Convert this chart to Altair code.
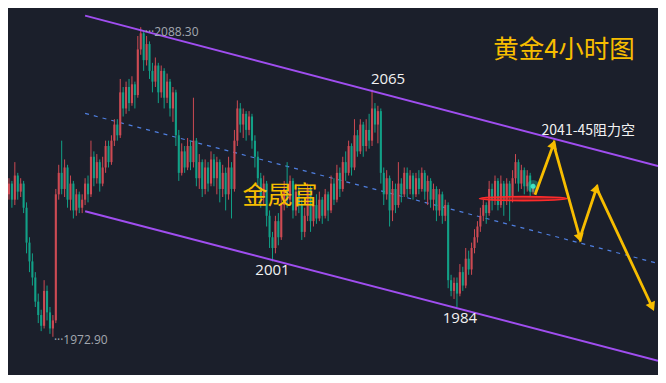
import altair as alt
import pandas as pd

# ---------------- data (prices) ----------------
OPEN = [2026,2030,2024,2033,2027,2030,2021,2008,2001,1995,
        1986,1981,1977,1990,1982,1976,1979,2026,2034,2028,
        2036,2024,2030,2020,2026,2021,2024,2030,2026,2040,
        2032,2038,2030,2036,2044,2038,2046,2052,2048,2064,
        2058,2066,2060,2067,2063,2080,2086,2076,2082,2072,
        2068,2074,2064,2072,2062,2068,2058,2064,2048,2034,
        2042,2036,2044,2038,2046,2032,2038,2028,2036,2030,
        2039,2032,2038,2028,2034,2026,2036,2028,2046,2058,
        2052,2056,2050,2055,2046,2040,2032,2025,2030,2018,
        2010,2006,2016,2010,2022,2028,2024,2031,2020,2027,
        2022,2012,2018,2028,2016,2022,2017,2024,2018,2026,
        2020,2030,2024,2034,2028,2038,2034,2044,2036,2048,
        2042,2052,2044,2050,2046,2058,2052,2057,2034,2026,
        2032,2020,2028,2022,2030,2026,2034,2028,2033,2026,
        2032,2028,2034,2027,2031,2024,2028,2020,2026,2018,
        2022,1994,1990,1993,1989,1997,1992,2002,1998,2006,
        2010,2014,2018,2022,2019,2028,2024,2031,2022,2030,
        2024,2030,2025,2032,2038,2030,2035,2029,2033,2027]
CLOSE = [2030,2024,2033,2027,2030,2021,2008,2001,1995,1986,
         1981,1977,1990,1982,1976,1979,2026,2034,2028,2036,
         2024,2030,2020,2026,2021,2024,2030,2026,2040,2032,
         2038,2030,2036,2044,2038,2046,2052,2048,2064,2058,
         2066,2060,2067,2063,2080,2086,2076,2082,2072,2068,
         2074,2064,2072,2062,2068,2058,2064,2048,2034,2042,
         2036,2044,2038,2046,2032,2038,2028,2036,2030,2039,
         2032,2038,2028,2034,2026,2036,2028,2046,2058,2052,
         2056,2050,2055,2046,2040,2032,2025,2030,2018,2010,
         2006,2016,2010,2022,2028,2024,2031,2020,2027,2022,
         2012,2018,2028,2016,2022,2017,2024,2018,2026,2020,
         2030,2024,2034,2028,2038,2034,2044,2036,2048,2042,
         2052,2044,2050,2046,2058,2052,2057,2034,2026,2032,
         2020,2028,2022,2030,2026,2034,2028,2033,2026,2032,
         2028,2034,2027,2031,2024,2028,2020,2026,2018,2022,
         1994,1990,1993,1989,1997,1992,2002,1998,2006,2010,
         2014,2018,2022,2019,2028,2024,2031,2022,2030,2024,
         2030,2025,2032,2038,2030,2035,2029,2033,2027,2029]
HIGH = [2032,2031,2038,2034,2032,2031,2023,2010,2004,1997,
        1989,1983,1994,1992,1984,1981,2028,2037,2046,2039,
        2037,2033,2031,2028,2027,2026,2032,2033,2046,2042,
        2041,2039,2040,2046,2046,2048,2054,2054,2069,2066,
        2068,2069,2070,2068,2085,2088.3,2087,2085,2083,2075,
        2077,2075,2074,2073,2071,2069,2066,2065,2050,2045,
        2044,2047,2046,2062,2047,2041,2039,2039,2038,2042,
        2041,2040,2039,2037,2036,2040,2038,2050,2061,2060,
        2058,2057,2057,2056,2048,2042,2034,2033,2031,2020,
        2012,2018,2019,2026,2031,2038,2033,2032,2030,2029,
        2024,2021,2030,2029,2025,2026,2027,2025,2028,2027,
        2033,2032,2037,2036,2040,2042,2046,2045,2054,2050,
        2054,2053,2054,2056,2065,2060,2059,2058,2036,2035,
        2033,2031,2030,2038,2032,2036,2036,2035,2034,2034,
        2035,2036,2035,2033,2032,2030,2029,2028,2027,2024,
        2023,1996,1995,1995,2000,1999,2006,2005,2008,2013,
        2016,2021,2024,2023,2031,2030,2033,2032,2033,2031,
        2032,2031,2035,2041,2039,2037,2036,2035,2034,2030]
LOW = [2024,2021,2022,2024,2025,2019,2004,1997,1992,1984,
       1978,1975,1976,1979,1974,1972.9,1978,2024,2026,2025,
       2021,2020,2017,2018,2019,2019,2022,2023,2025,2029,
       2030,2027,2029,2034,2036,2037,2044,2046,2047,2055,
       2056,2057,2059,2058,2062,2078,2072,2074,2069,2064,
       2066,2060,2062,2058,2060,2055,2053,2044,2031,2033,
       2034,2035,2035,2036,2029,2028,2025,2026,2027,2029,
       2029,2026,2023,2025,2020,2024,2017,2027,2044,2049,
       2047,2046,2048,2043,2036,2029,2021,2022,2014,2006,
       2001,2004,2007,2009,2020,2021,2022,2017,2018,2019,
       2009,2010,2016,2012,2014,2015,2016,2015,2017,2016,
       2019,2022,2023,2025,2027,2031,2033,2033,2035,2040,
       2041,2040,2042,2043,2044,2049,2045,2030,2022,2024,
       2014,2016,2019,2021,2023,2025,2025,2026,2024,2025,
       2026,2027,2024,2022,2021,2020,2016,2018,2015,2016,
       1991,1988,1987,1984,1988,1990,1991,1996,1996,2004,
       2008,2012,2016,2015,2018,2020,2022,2020,2021,2018,
       2022,2016,2023,2030,2027,2028,2026,2027,2025,2026]

# labelled swing candles (candle index)
SWING_HIGH_IDX = [45, 124]     # 2088.30, 2065
SWING_LOW_IDX = [15, 90, 153]  # 1972.90, 2001, 1984

# channel (candle index, price)
CH_IDX = [26, 221.67]
CH_UPPER = [2092.6, 2036.5]
CH_MID = [2056.15, 2000.25]
CH_LOWER = [2019.7, 1964.0]

# projected path (candle index, price)
ARROW_IDX = [179.67, 186, 195, 200.67, 219.67]
ARROW_PRICE = [2025.8, 2044.7, 2009.7, 2028.3, 1984.0]
ARROW_ANGLE = [19.7, 164.6, 18.1, 155.3]

# support zone marked by the red ellipse
ZONE_IDX = [175.67]
ZONE_PRICE = [2024.4]

X_DOMAIN = [-0.333, 221.667]
Y_DOMAIN = [1958.66, 2095.44]

RED = "#cc4a53"
GREEN = "#12a087"
PURPLE = "#a04ef0"
GOLD = "#f7bd00"
BG = "#1b1f2b"

df = pd.DataFrame({"i": list(range(len(CLOSE))), "o": OPEN, "h": HIGH, "l": LOW, "c": CLOSE})

xs = alt.Scale(domain=X_DOMAIN, nice=False, zero=False)
ys = alt.Scale(domain=Y_DOMAIN, nice=False, zero=False)
X = alt.X("i:Q", scale=xs, axis=None)

color = alt.condition("datum.c >= datum.o", alt.value(RED), alt.value(GREEN))
base = alt.Chart(df)
wicks = base.mark_rule(strokeWidth=1).encode(
    x=X, y=alt.Y("l:Q", scale=ys, axis=None), y2="h:Q", color=color)
bodies = base.mark_rule(strokeWidth=2.1).encode(
    x=X, y=alt.Y("o:Q", scale=ys, axis=None), y2="c:Q", color=color)

ch_rows = []
for name, vals in (("upper", CH_UPPER), ("lower", CH_LOWER), ("mid", CH_MID)):
    for ix, p in zip(CH_IDX, vals):
        ch_rows.append({"line": name, "i": ix, "p": p})
ch = pd.DataFrame(ch_rows)
bounds = alt.Chart(ch).transform_filter("datum.line != 'mid'").mark_line(
    color=PURPLE, strokeWidth=2).encode(
    x=X, y=alt.Y("p:Q", scale=ys, axis=None), detail="line:N")
mid = alt.Chart(ch).transform_filter("datum.line == 'mid'").mark_line(
    color="#4f7fe0", strokeWidth=1.2, strokeDash=[4, 5]).encode(
    x=X, y=alt.Y("p:Q", scale=ys, axis=None))

ar = pd.DataFrame({"i": ARROW_IDX, "p": ARROW_PRICE, "k": list(range(len(ARROW_IDX)))})
arrow_line = alt.Chart(ar).mark_line(color=GOLD, strokeWidth=2.8).encode(
    x=X, y=alt.Y("p:Q", scale=ys, axis=None), order="k:Q")
heads = pd.DataFrame({"i": ARROW_IDX[1:], "p": ARROW_PRICE[1:], "a": ARROW_ANGLE})
arrow_heads = alt.Chart(heads).mark_point(
    shape="triangle-up", filled=True, color=GOLD, size=105, opacity=1).encode(
    x=X, y=alt.Y("p:Q", scale=ys, axis=None), angle=alt.Angle("a:Q", scale=None))

zone = pd.DataFrame({"i": ZONE_IDX, "p": ZONE_PRICE})
ellipse = alt.Chart(zone).mark_point(
    shape="M-1,0 A1,0.045 0 1,0 1,0 A1,0.045 0 1,0 -1,0 Z",
    size=7700, filled=True, fill="#e32222", fillOpacity=0.55,
    stroke="#ff2b2b", strokeWidth=1.6, opacity=1).encode(
    x=X, y=alt.Y("p:Q", scale=ys, axis=None))

last = df.tail(1)
glow = alt.Chart(last).mark_point(filled=True, color="#1fd3b0", size=160, opacity=0.35).encode(
    x=X, y=alt.Y("c:Q", scale=ys, axis=None))
glow2 = alt.Chart(last).mark_point(filled=True, color="#3ff0cc", size=25, opacity=0.9).encode(
    x=X, y=alt.Y("c:Q", scale=ys, axis=None))


def sel(idx_list):
    return "indexof([" + ",".join(str(v) for v in idx_list) + "], datum.i) >= 0"


# price labels tied to their candles
hi_label = alt.Chart(df).transform_filter(sel(SWING_HIGH_IDX[:1])).transform_calculate(
    t="'···' + format(datum.h, '.2f')").mark_text(
    align="left", baseline="middle", dx=4, dy=5, fontSize=12, color="#a3a8b0",
    font="Open Sans").encode(x=X, y=alt.Y("h:Q", scale=ys, axis=None), text="t:N")
lo_label = alt.Chart(df).transform_filter(sel(SWING_LOW_IDX[:1])).transform_calculate(
    t="'···' + format(datum.l, '.2f')").mark_text(
    align="left", baseline="middle", dx=1, dy=3, fontSize=12, color="#a3a8b0",
    font="Open Sans").encode(x=X, y=alt.Y("l:Q", scale=ys, axis=None), text="t:N")


def peak(idx, field, dx, dy):
    return alt.Chart(df).transform_filter(sel([idx])).transform_calculate(
        t=f"format(datum.{field}, 'd')").mark_text(
        align="center", baseline="middle", dx=dx, dy=dy, fontSize=15,
        color="#f2f2f2", font="Open Sans").encode(
        x=X, y=alt.Y(f"{field}:Q", scale=ys, axis=None), text="t:N")


l2065 = peak(SWING_HIGH_IDX[1], "h", 16, -11)
l2001 = peak(SWING_LOW_IDX[1], "l", 0, 9)
l1984 = peak(SWING_LOW_IDX[2], "l", 3, 11)

res = alt.Chart(ar.iloc[[1]]).mark_text(
    text="2041-45阻力空", align="left", baseline="middle", dx=-12, dy=-13,
    fontSize=14, color="#f2f2f2", font="Noto Sans CJK SC").encode(
    x=X, y=alt.Y("p:Q", scale=ys, axis=None))

title = alt.Chart(df.head(1)).mark_text(
    text="黄金4小时图", align="center", baseline="middle", fontSize=25.5,
    color=GOLD, font="Noto Sans CJK SC").encode(x=alt.value(556), y=alt.value(42))
brand = alt.Chart(df.head(1)).mark_text(
    text="金晟富", align="center", baseline="middle", fontSize=25,
    color=GOLD, font="Noto Sans CJK SC").encode(x=alt.value(272), y=alt.value(188))

chart = alt.layer(
    mid, wicks, bodies, bounds, ellipse, glow, glow2, arrow_line, arrow_heads,
    hi_label, lo_label, l2065, l2001, l1984, res, title, brand
).properties(
    width=650, height=367, padding=0,
    autosize=alt.AutoSizeParams(type="none"), background=BG
).configure_view(strokeWidth=0)

chart.save("out.html", embed_options={"renderer": "svg", "actions": False})
